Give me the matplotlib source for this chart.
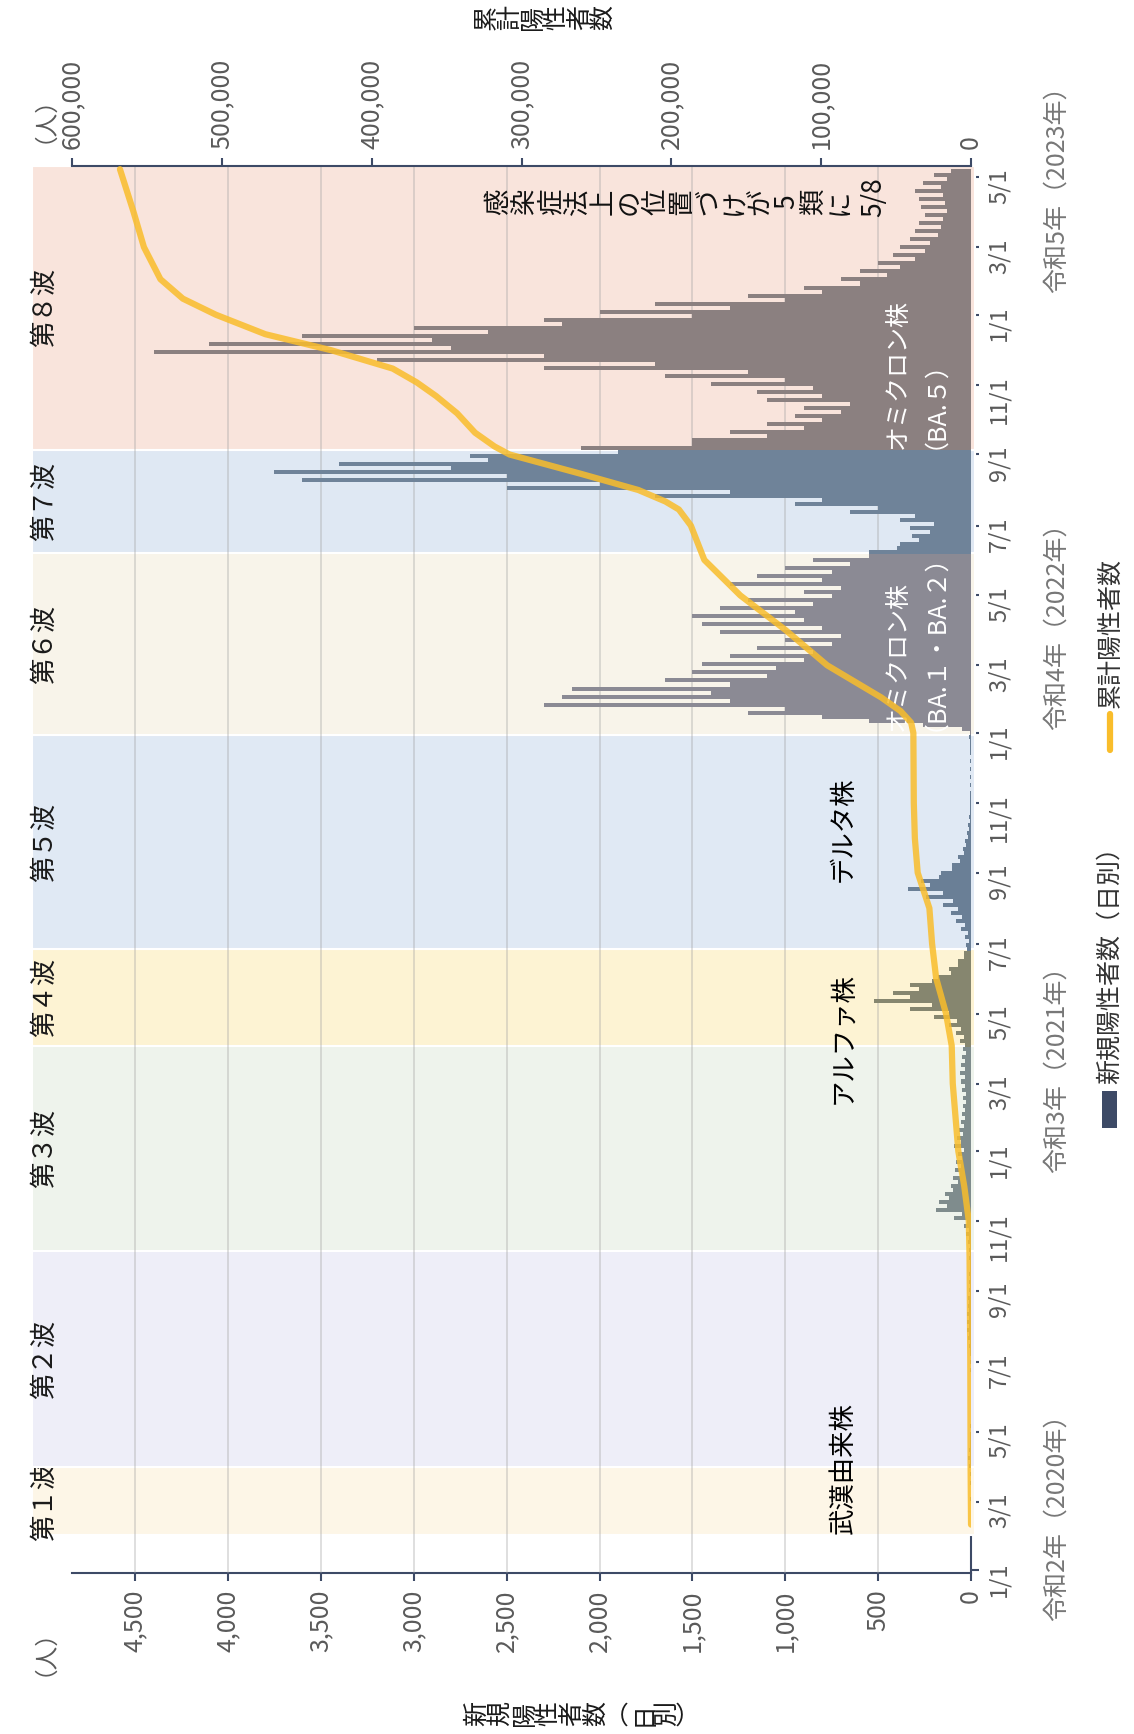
import datetime as dt
import numpy as np
import matplotlib
matplotlib.use("Agg")
import matplotlib.pyplot as plt
import matplotlib.dates as mdates
from matplotlib.transforms import blended_transform_factory
from matplotlib.patches import Rectangle
from matplotlib.lines import Line2D

plt.rcParams['font.family'] = ['Noto Sans CJK JP', 'DejaVu Sans']

W, H = 1134, 1734

# 新規陽性者数 (日別): two values per week (Mon-Thu, Thu-Sun), weeks from 2020-01-27
series_start = dt.date(2020, 1, 27)
new_cases = [
    0, 0, 0, 0, 1, 0, 1, 0, 2, 1, 3, 1, 2, 1, 3, 1, 5, 2,
    10, 4, 14, 6, 12, 5, 8, 3, 5, 2, 3, 1,
    1, 0, 0, 0, 0, 0, 1, 0, 1, 0, 2, 1, 3, 1, 4, 2,
    8, 4, 12, 6, 16, 9, 20, 12, 22, 13, 20, 12, 16, 10, 14, 8, 12, 6, 10, 5, 9, 5, 8, 4, 10, 5,
    12, 6, 18, 9, 25, 12, 40, 22,
    90, 50, 190, 130, 170, 120, 140, 95, 110, 70, 95, 60, 85, 55, 80, 50, 70, 40,
    90, 55, 75, 45, 65, 40, 55, 35, 50, 30, 45, 25, 45, 28, 50, 30, 55, 32, 60, 35, 55, 30, 50, 28, 45, 30,
    60, 40, 80, 55, 120, 75, 200, 120, 330, 210, 520, 330, 420, 280, 330, 210, 180, 110, 120, 70, 70, 40, 40, 20,
    25, 12, 35, 18, 55, 30, 80, 50, 110, 70, 150, 95, 240, 150, 340, 220, 270, 170, 160, 100,
    100, 60, 70, 40, 45, 25, 30, 15, 20, 10, 14, 7, 10, 5, 8, 4, 6, 3, 5, 2, 5, 2, 4, 2, 4, 2, 5, 2, 6, 3, 8, 4, 12, 5,
    50, 260, 550, 800, 1200, 1000, 2300, 1300, 2200, 1400, 2150, 1300, 1650, 1100, 1500, 1050, 1450, 900,
    1300, 850, 1150, 750, 1000, 700, 1350, 800, 1450, 900, 1500, 950, 1350, 850, 1200, 750, 900, 700,
    1300, 800, 1150, 750, 1000, 650, 850, 550,
    550, 400, 380, 280, 320, 220, 330, 200, 380, 300, 650, 500, 950, 800, 1700, 1300, 2500, 2000,
    3600, 2500, 3750, 2800, 3400, 2600, 2700, 1900,
    2100, 1500, 1500, 1100, 1300, 900, 1100, 800, 950, 700, 900, 650, 1100, 800, 1150, 850, 1400, 1000,
    1650, 1200, 2300, 1700, 3200, 2300, 4400, 2800, 4100, 2900, 3600, 2600, 3000, 2200, 2300, 1500,
    2000, 1300, 1700, 1000, 1200, 800, 900, 600, 700, 450, 600, 380, 500, 300, 420, 250, 380, 220,
    330, 180, 300, 160, 280, 150, 250, 130, 270, 140, 280, 150, 300, 160, 260, 130, 200, 110,
]

# 累計陽性者数
cum_dates = ['2020-02-10', '2020-04-01', '2020-07-01', '2020-10-01', '2020-11-01', '2020-12-01',
             '2021-01-01', '2021-03-01', '2021-04-03', '2021-05-01', '2021-06-01', '2021-07-01',
             '2021-08-01', '2021-09-01', '2021-10-01', '2021-11-01', '2022-01-01', '2022-01-10',
             '2022-01-20', '2022-02-01', '2022-03-01', '2022-04-01', '2022-05-01', '2022-06-01',
             '2022-07-01', '2022-07-15', '2022-07-22', '2022-08-01', '2022-08-15', '2022-09-01',
             '2022-09-08', '2022-09-20', '2022-10-07', '2022-10-22', '2022-11-03', '2022-11-15',
             '2022-12-01', '2022-12-15', '2023-01-01', '2023-01-15', '2023-02-01', '2023-03-01',
             '2023-04-01', '2023-05-08']
cum_values = [0, 300, 500, 1000, 1500, 4500,
              8500, 12200, 12900, 16700, 23300, 26000,
              27800, 35600, 37500, 38200, 38500, 40000,
              47000, 60000, 96000, 124000, 154000, 178000,
              187000, 195000, 204000, 222000, 260000, 308000,
              318000, 331000, 343000, 357000, 370000, 386000,
              427000, 471000, 504000, 526000, 541000, 552000,
              559000, 568000]

waves = ['第１波', '第２波', '第３波', '第４波', '第５波', '第６波', '第７波', '第８波']
wave_start = ['2020-02-01', '2020-03-31', '2020-10-06', '2021-04-03', '2021-06-26', '2021-12-30', '2022-06-07', '2022-09-05']
wave_end = ['2020-03-31', '2020-10-06', '2021-04-03', '2021-06-26', '2021-12-30', '2022-06-07', '2022-09-05', '2023-05-11']
band_colors = ['#fdf6e7', '#eeeef8', '#eef3ec', '#fdf3d3', '#e0e9f4', '#f8f4ea', '#dfe8f3', '#f9e4dc']
bar_colors = ['#7f8b8e', '#7f8b8e', '#7f8c8d', '#86866f', '#6a7f96', '#8b8a94', '#6f8399', '#8b8080']

new_ticks = list(range(0, 4501, 500))
cum_ticks = list(range(0, 600001, 100000))

dn = lambda s: mdates.date2num(dt.date.fromisoformat(s))

fig = plt.figure(figsize=(W / 100, H / 100), dpi=100)
ax = fig.add_axes([0.0635, 0.093, 0.7928, 0.8114])
ax.set_xlim(4840, 0)
ax.set_ylim(mdates.date2num(dt.date(2019, 12, 30)), mdates.date2num(dt.date(2023, 5, 11)))

axis_col = '#3d4a66'
lab_col = '#5a5a5a'

# wave bands
ws = np.array([dn(s) for s in wave_start])
for name, s, e, c in zip(waves, wave_start, wave_end, band_colors):
    p = ax.axhspan(dn(s), dn(e), xmin=-0.045, xmax=1.004, facecolor=c, edgecolor='white', lw=1.5, zorder=3)
    p.set_clip_on(False)
    ax.text(0.039, (dn(s) + dn(e)) / 2, name, transform=blended_transform_factory(fig.transFigure, ax.transData),
            rotation=90, ha='center', va='center', fontsize=19, color='#1a1a1a')

for v in new_ticks[1:]:
    ax.axvline(v, color='#a0a0a0', alpha=0.4, lw=1.2, zorder=3.5)

# daily bars
y_pos = mdates.date2num(series_start) + 3.5 * np.arange(len(new_cases)) + 1.75
idx = np.clip(np.searchsorted(ws, y_pos) - 1, 0, len(waves) - 1)
ax.barh(y_pos, new_cases, height=3.5, color=[bar_colors[i] for i in idx], lw=0, zorder=4)

# axes styling
for s in ['top', 'left']:
    ax.spines[s].set_visible(False)
for s in ['bottom', 'right']:
    ax.spines[s].set_color(axis_col)
    ax.spines[s].set_linewidth(1.5)
ax.set_xticks(new_ticks)
ax.set_xticklabels([f'{v:,}' for v in new_ticks])
ax.tick_params(axis='x', direction='out', length=6, width=1.5, color=axis_col, labelrotation=90,
               labelsize=18, labelcolor=lab_col, pad=6)
ax.yaxis.tick_right()
ax.yaxis.set_major_locator(mdates.MonthLocator(bymonth=[1, 3, 5, 7, 9, 11]))
ax.yaxis.set_major_formatter(plt.FuncFormatter(lambda x, p: f'{mdates.num2date(x).month}/1'))
ax.tick_params(axis='y', direction='out', length=6, width=1.5, color=axis_col, labelrotation=90,
               labelsize=17, labelcolor=lab_col, pad=6)

# cumulative line
ax2 = ax.twiny()
ax2.set_xlim(600000, 0)
ax2.plot(cum_values, [dn(d) for d in cum_dates], color='#f9bd2b', lw=4.5, alpha=0.85,
         solid_capstyle='round', solid_joinstyle='round', zorder=5)
for s in ['left', 'right', 'bottom']:
    ax2.spines[s].set_visible(False)
ax2.spines['top'].set_color(axis_col)
ax2.spines['top'].set_linewidth(1.5)
ax2.set_xticks(cum_ticks)
ax2.set_xticklabels([f'{v:,}' for v in cum_ticks])
ax2.tick_params(axis='x', direction='out', length=6, width=1.5, color=axis_col, labelrotation=90,
                labelsize=18, labelcolor=lab_col, pad=6)

# strain annotations
ax.text(690, dn('2020-03-30'), '武漢由来株', rotation=90, ha='center', va='center', fontsize=19)
ax.text(690, dn('2021-04-10'), 'アルファ株', rotation=90, ha='center', va='center', fontsize=19)
ax.text(690, dn('2021-10-09'), 'デルタ株', rotation=90, ha='center', va='center', fontsize=19)
ax.text(330, dn('2022-01-03'), 'オミクロン株\n（BA.１・BA.２）', rotation=90, ha='center', va='bottom',
        multialignment='left', fontsize=18, color='white', linespacing=0.9, zorder=6)
ax.text(330, dn('2022-09-06'), 'オミクロン株\n（BA.５）', rotation=90, ha='center', va='bottom',
        multialignment='left', fontsize=18, color='white', linespacing=0.9, zorder=6)

renderer = fig.canvas.get_renderer()


def stack(xc, y0, s, span, **kw):
    # vertical (tategaki) text as one rotated multi-line text, spaced to the given width
    t = fig.text(xc / W, 1 - y0 / H, '\n'.join(s), rotation=90, ha='center', va='center',
                 multialignment='center', **kw)
    t.set_linespacing(1.0)
    w1 = t.get_window_extent(renderer).width
    t.set_linespacing(2.0)
    w2 = t.get_window_extent(renderer).width
    t.set_linespacing(max(0.5, 1.0 + (span - w1) / (w2 - w1)))
    return t


stack(669, 202, '感染症法上の位置づけが5類に', 368, fontsize=19, color='#111111')
fig.text(874 / W, 1 - 197 / H, '5/8', rotation=90, ha='center', va='center', fontsize=19, color='#111111')

stack(545, 17, '累計陽性者数', 142, fontsize=18, color='#1a1a1a')
stack(584, 1714, '新規陽性者数︵日別︶', 240, fontsize=18, color='#1a1a1a')
fig.text(33 / W, 1 - 108 / H, '（人）', rotation=90, ha='center', va='center', fontsize=17, color=lab_col)
fig.text(33 / W, 1 - 1641 / H, '（人）', rotation=90, ha='center', va='center', fontsize=17, color=lab_col)

# era labels
for label, yb in [('令和2年（2020年）', 0.065), ('令和3年（2021年）', 0.3235),
                  ('令和4年（2022年）', 0.579), ('令和5年（2023年）', 0.831)]:
    fig.text(0.932, yb, label, rotation=90, ha='center', va='bottom', fontsize=18, color='#777777')

# legend
fig.patches.append(Rectangle((0.972, 0.3495), 0.013, 0.0215, transform=fig.transFigure,
                             facecolor='#3d4a66', edgecolor='none'))
fig.text(0.979, 0.3749, '新規陽性者数（日別）', rotation=90, ha='center', va='bottom', fontsize=18, color='#333333')
fig.lines.append(Line2D([0.979, 0.979], [0.5675, 0.588], transform=fig.transFigure,
                        color='#f9bd2b', lw=4.5, solid_capstyle='round'))
fig.text(0.979, 0.5917, '累計陽性者数', rotation=90, ha='center', va='bottom', fontsize=18, color='#333333')

fig.savefig('out.png', dpi=100)
